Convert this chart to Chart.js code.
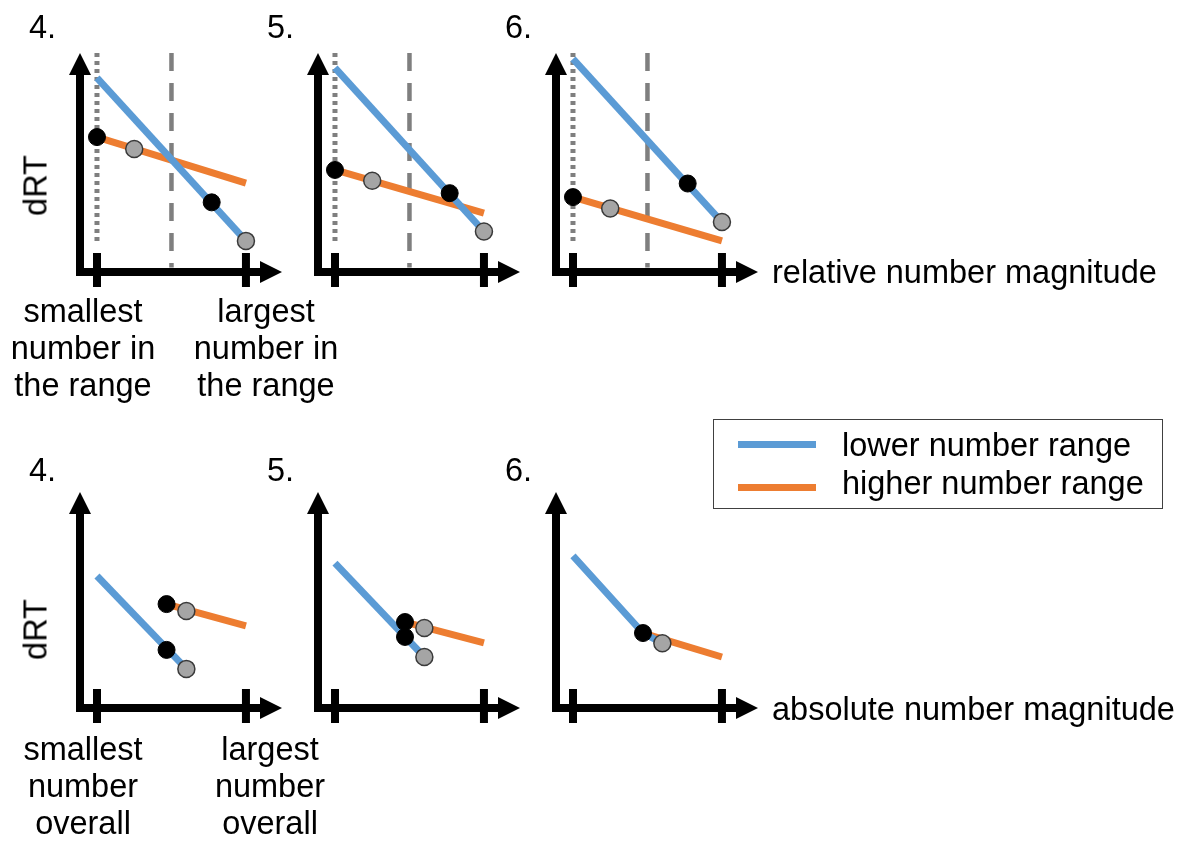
<!DOCTYPE html>
<html>
<head>
<meta charset="utf-8">
<script src="https://cdn.jsdelivr.net/npm/chart.js@4.4.1/dist/chart.umd.min.js"></script>
<style>
  body { margin: 0; background: #fff; }
  #page { position: relative; width: 1187px; height: 844px; overflow: hidden;
          font-family: "Liberation Sans", Arial, sans-serif; color: #000; }
  canvas { position: absolute; }
  .txt { position: absolute; font-size: 32.5px; line-height: 37px; white-space: nowrap; }
  .under { width: 180px; text-align: center; }
  .ylab { width: 100px; text-align: center; transform: rotate(-90deg); }
  #legend { position: absolute; left: 713px; top: 419px; width: 448px; height: 88px;
            border: 1.5px solid #404040; }
  .swatch { position: absolute; left: 24px; width: 78px; height: 7px; }
</style>
</head>
<body>
<div id="page"></div>

<script>
// x: 0 = smallest number, 1 = largest number ; y: dRT (arbitrary units 0..10)
const panelLabels = ['4.', '5.', '6.'];
const tickValues = [0, 1];

// top row - relative number magnitude
const relLower = [
  [[0, 8.86], [1, 1.42]],
  [[0, 9.32], [1, 1.85]],
  [[0, 9.73], [1, 2.28]]
];
const relHigher = [
  [[0, 6.16], [1, 4.06]],
  [[0, 4.66], [1, 2.69]],
  [[0, 3.42], [1, 1.42]]
];
const relBlack = [
  [[0, 6.16], [0.77, 3.18]],
  [[0, 4.66], [0.77, 3.6]],
  [[0, 3.42], [0.77, 4.04]]
];
const relGrey = [
  [[0.25, 5.62], [1, 1.42]],
  [[0.25, 4.17], [1, 1.85]],
  [[0.25, 2.9], [1, 2.28]]
];
const smallestMark = [[0, 10], [0, 1.3]];   // dotted
const middleMark = [[0.5, 10], [0.5, 0.2]]; // dashed

// bottom row - absolute number magnitude
const absLower = [
  [[0, 6.11], [0.6, 1.81]],
  [[0, 6.71], [0.6, 2.36]],
  [[0, 7.04], [0.47, 3.47], [0.6, 3.0]]
];
const absHigher = [
  [[0.467, 4.81], [1, 3.8]],
  [[0.47, 3.98], [1, 3.01]],
  [[0.47, 3.47], [1, 2.36]]
];
const absBlack = [
  [[0.467, 4.81], [0.467, 2.69]],
  [[0.47, 3.98], [0.47, 3.29]],
  [[0.47, 3.47]]
];
const absGrey = [
  [[0.6, 4.49], [0.6, 1.81]],
  [[0.6, 3.7], [0.6, 2.36]],
  [[0.6, 3.0]]
];

const legendLabels = ['lower number range', 'higher number range'];

const BLUE = '#5B9BD5';
const ORANGE = '#ED7D31';
const page = document.getElementById('page');

// axes with arrows + the two ticks
const axisArrows = {
  id: 'axisArrows',
  beforeDatasetsDraw(chart) {
    const ctx = chart.ctx;
    const x = chart.scales.x, y = chart.scales.y;
    const x0 = x.getPixelForValue(x.min), y0 = y.getPixelForValue(0);
    const xTip = x.getPixelForValue(x.max), yTip = y.getPixelForValue(y.max);
    const head = 22, half = 11;
    ctx.save();
    ctx.strokeStyle = '#000';
    ctx.fillStyle = '#000';
    ctx.lineWidth = 8;
    ctx.lineJoin = 'miter';
    ctx.lineCap = 'butt';
    ctx.beginPath();
    ctx.moveTo(x0, yTip + head - 1);
    ctx.lineTo(x0, y0);
    ctx.lineTo(xTip - head + 1, y0);
    ctx.stroke();
    ctx.beginPath();
    ctx.moveTo(x0, yTip);
    ctx.lineTo(x0 - half, yTip + head);
    ctx.lineTo(x0 + half, yTip + head);
    ctx.closePath();
    ctx.moveTo(xTip, y0);
    ctx.lineTo(xTip - head, y0 - half);
    ctx.lineTo(xTip - head, y0 + half);
    ctx.closePath();
    ctx.fill();
    tickValues.forEach(v => {
      const px = x.getPixelForValue(v);
      ctx.beginPath();
      ctx.moveTo(px, y0 - 19);
      ctx.lineTo(px, y0 + 15);
      ctx.stroke();
    });
    ctx.restore();
  }
};

function pts(arr) {
  return arr.map(p => ({x: p[0], y: p[1]}));
}

function lineSet(arr, color, width, order, dash) {
  return {
    data: pts(arr), showLine: true, borderColor: color, borderWidth: width,
    borderDash: dash || [], pointRadius: 0, order: order, clip: false
  };
}

function dotSet(arr, fill, border, bw) {
  return {
    data: pts(arr), showLine: false, pointRadius: 8.5, pointBackgroundColor: fill,
    pointBorderColor: border, pointBorderWidth: bw, order: 0, clip: false
  };
}

function makePanel(i, row, datasets) {
  const axisLeft = 80 + 238 * i;
  const top = row === 0 ? 53 : 492;
  const h = row === 0 ? 219 : 216;
  const pad = {left: 30, right: 30, top: 20, bottom: 25};
  const cv = document.createElement('canvas');
  cv.width = 202 + pad.left + pad.right;
  cv.height = h + pad.top + pad.bottom;
  cv.style.left = (axisLeft - pad.left) + 'px';
  cv.style.top = (top - pad.top) + 'px';
  page.appendChild(cv);

  new Chart(cv.getContext('2d'), {
    type: 'scatter',
    data: {datasets: datasets},
    options: {
      responsive: false,
      animation: false,
      events: [],
      devicePixelRatio: 1,
      layout: {padding: pad},
      plugins: {legend: {display: false}, tooltip: {enabled: false}},
      scales: {
        x: {type: 'linear', min: -0.114, max: 1.242, display: false},
        y: {type: 'linear', min: 0, max: 10, display: false}
      }
    },
    plugins: [axisArrows]
  });
}

for (let i = 0; i < 3; i++) {
  makePanel(i, 0, [
    dotSet(relBlack[i], '#000', '#000', 1),
    dotSet(relGrey[i], '#A5A5A5', '#3A3A3A', 1.5),
    lineSet(relLower[i], BLUE, 7, 1),
    lineSet(relHigher[i], ORANGE, 7, 2),
    lineSet(smallestMark, '#7F7F7F', 5, 3, [4, 4]),
    lineSet(middleMark, '#7F7F7F', 4.5, 3, [18, 12])
  ]);
  makePanel(i, 1, [
    dotSet(absBlack[i], '#000', '#000', 1),
    dotSet(absGrey[i], '#A5A5A5', '#3A3A3A', 1.5),
    lineSet(absLower[i], BLUE, 7, 1),
    lineSet(absHigher[i], ORANGE, 7, 2)
  ]);
}

// texts
function addText(str, left, top, cls) {
  const d = document.createElement('div');
  d.className = 'txt ' + (cls || '');
  d.innerHTML = str;
  d.style.left = left + 'px';
  d.style.top = top + 'px';
  page.appendChild(d);
  return d;
}

panelLabels.forEach((t, i) => {
  addText(t, 29 + 238 * i, 9);
  addText(t, 29 + 238 * i, 452);
});
addText('dRT', 36 - 50, 185 - 18.5, 'ylab');
addText('dRT', 36 - 50, 629 - 18.5, 'ylab');

addText('smallest<br>number in<br>the range', 83 - 90, 293, 'under');
addText('largest<br>number in<br>the range', 266 - 90, 293, 'under');
addText('smallest<br>number<br>overall', 83 - 90, 731, 'under');
addText('largest<br>number<br>overall', 270 - 90, 731, 'under');

addText('relative number magnitude', 772, 254);
addText('absolute number magnitude', 772, 691);

// legend box
const lg = document.createElement('div');
lg.id = 'legend';
page.appendChild(lg);
[BLUE, ORANGE].forEach((c, k) => {
  const s = document.createElement('div');
  s.className = 'swatch';
  s.style.background = c;
  s.style.top = (21 + 43 * k) + 'px';
  lg.appendChild(s);
  const t = document.createElement('div');
  t.className = 'txt';
  t.textContent = legendLabels[k];
  t.style.left = '128px';
  t.style.top = (7 + 38 * k) + 'px';
  lg.appendChild(t);
});
</script>
</body>
</html>
